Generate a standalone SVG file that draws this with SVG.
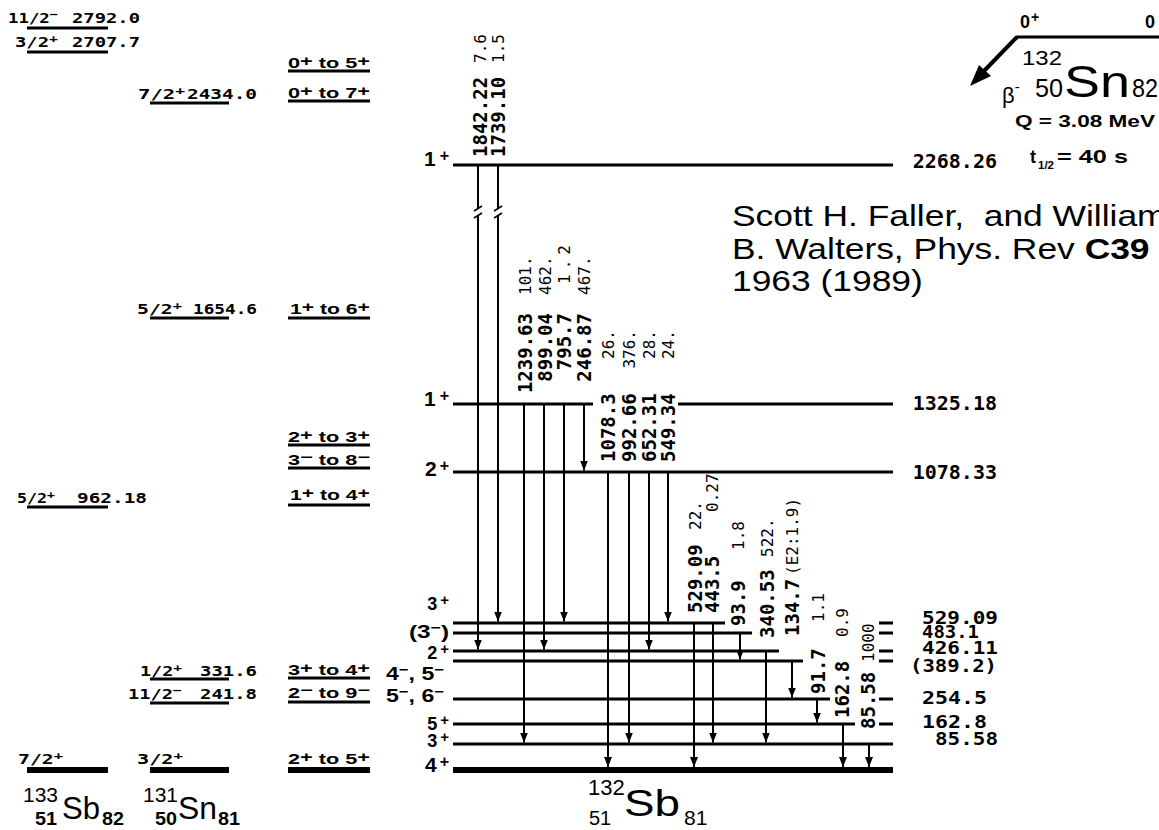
<svg xmlns="http://www.w3.org/2000/svg" width="1159" height="830" viewBox="0 0 1159 830">
<defs>
<marker id="ah" viewBox="0 0 10 8" refX="10" refY="4" markerWidth="10" markerHeight="8" markerUnits="userSpaceOnUse" orient="auto"><path d="M0,0 L10,4 L0,8 z" fill="#000"/></marker>
</defs>
<style>
.lv{stroke:#000;stroke-width:3;fill:none}
.gs{stroke:#000;stroke-width:6;fill:none}
.g{stroke:#000;stroke-width:2;fill:none;marker-end:url(#ah)}
.ll{font-family:"DejaVu Sans Mono",monospace;font-weight:bold;font-size:14px;fill:#000}
.sr{font-family:"Liberation Sans",Arial,sans-serif;font-weight:bold;font-size:14px;fill:#000}
.jp{font-family:"Liberation Sans",Arial,sans-serif;font-weight:bold;font-size:21px;fill:#000}
.jps{font-family:"Liberation Sans",Arial,sans-serif;font-weight:bold;font-size:18px;fill:#000}
.en{font-family:"DejaVu Sans Mono",monospace;font-weight:bold;font-size:20px;fill:#000}
.es{font-family:"DejaVu Sans Mono",monospace;font-weight:bold;font-size:17px;fill:#000}
.ge{font-family:"DejaVu Sans Mono",monospace;font-weight:bold;font-size:19px;fill:#000}
.gi{font-family:"DejaVu Sans Mono",monospace;font-size:16px;fill:#000}
.nuc{font-family:"Liberation Sans",Arial,sans-serif;fill:#000}
.cit{font-family:"Liberation Sans",Arial,sans-serif;font-size:30px;fill:#000}
</style>
<rect width="1159" height="830" fill="#fff"/>

<!-- 133Sb levels -->
<g id="sb133">
<line class="lv" x1="27" y1="28" x2="108" y2="28"/>
<text class="ll" x="8" y="23" textLength="50" lengthAdjust="spacingAndGlyphs">11/2<tspan dy="-5" font-size="11">−</tspan></text>
<text class="ll" x="72" y="23" textLength="68" lengthAdjust="spacingAndGlyphs">2792.0</text>
<line class="lv" x1="27" y1="52" x2="108" y2="52"/>
<text class="ll" x="15" y="47" textLength="43" lengthAdjust="spacingAndGlyphs">3/2<tspan dy="-5" font-size="11">+</tspan></text>
<text class="ll" x="72" y="47" textLength="68" lengthAdjust="spacingAndGlyphs">2707.7</text>
<line class="lv" x1="27" y1="507" x2="108" y2="507"/>
<text class="ll" x="17" y="503" textLength="38" lengthAdjust="spacingAndGlyphs">5/2<tspan dy="-5" font-size="11">+</tspan></text>
<text class="ll" x="77" y="503" textLength="70" lengthAdjust="spacingAndGlyphs">962.18</text>
<line class="gs" x1="27" y1="770" x2="108" y2="770"/>
<text class="ll" x="18" y="764" textLength="45" lengthAdjust="spacingAndGlyphs">7/2<tspan dy="-5" font-size="11">+</tspan></text>
<text class="nuc" x="23" y="802" font-size="21">133</text>
<text class="nuc" x="62" y="819" font-size="32" textLength="38" lengthAdjust="spacingAndGlyphs">Sb</text>
<text class="nuc" x="35" y="825" font-size="18" font-weight="bold" textLength="22" lengthAdjust="spacingAndGlyphs">51</text>
<text class="nuc" x="102" y="825" font-size="18" font-weight="bold" textLength="22" lengthAdjust="spacingAndGlyphs">82</text>
</g>

<!-- 131Sn levels -->
<g id="sn131">
<line class="lv" x1="150" y1="103" x2="229" y2="103"/>
<text class="ll" x="138" y="99" textLength="47" lengthAdjust="spacingAndGlyphs">7/2<tspan dy="-5" font-size="11">+</tspan></text>
<text class="ll" x="187" y="99" textLength="70" lengthAdjust="spacingAndGlyphs">2434.0</text>
<line class="lv" x1="150" y1="318" x2="229" y2="318"/>
<text class="ll" x="137" y="314" textLength="45" lengthAdjust="spacingAndGlyphs">5/2<tspan dy="-5" font-size="11">+</tspan></text>
<text class="ll" x="193" y="314" textLength="64" lengthAdjust="spacingAndGlyphs">1654.6</text>
<line class="lv" x1="150" y1="679" x2="229" y2="679"/>
<text class="ll" x="140" y="676" textLength="42" lengthAdjust="spacingAndGlyphs">1/2<tspan dy="-5" font-size="11">+</tspan></text>
<text class="ll" x="200" y="676" textLength="57" lengthAdjust="spacingAndGlyphs">331.6</text>
<line class="lv" x1="150" y1="703" x2="229" y2="703"/>
<text class="ll" x="128" y="699" textLength="54" lengthAdjust="spacingAndGlyphs">11/2<tspan dy="-5" font-size="11">−</tspan></text>
<text class="ll" x="200" y="699" textLength="57" lengthAdjust="spacingAndGlyphs">241.8</text>
<line class="gs" x1="150" y1="770" x2="229" y2="770"/>
<text class="ll" x="137" y="764" textLength="46" lengthAdjust="spacingAndGlyphs">3/2<tspan dy="-5" font-size="11">+</tspan></text>
<text class="nuc" x="143" y="802" font-size="21">131</text>
<text class="nuc" x="178" y="819" font-size="32" textLength="39" lengthAdjust="spacingAndGlyphs">Sn</text>
<text class="nuc" x="155" y="825" font-size="18" font-weight="bold" textLength="22" lengthAdjust="spacingAndGlyphs">50</text>
<text class="nuc" x="218" y="825" font-size="18" font-weight="bold" textLength="22" lengthAdjust="spacingAndGlyphs">81</text>
</g>

<!-- spin ranges -->
<g id="spin-ranges">
<line class="lv" x1="288" y1="71" x2="370" y2="71"/>
<text class="sr" x="288" y="68" textLength="82" lengthAdjust="spacingAndGlyphs">0<tspan dy="-2">+</tspan><tspan dy="2"> to 5</tspan><tspan dy="-2">+</tspan></text>
<line class="lv" x1="288" y1="101" x2="370" y2="101"/>
<text class="sr" x="288" y="98" textLength="82" lengthAdjust="spacingAndGlyphs">0<tspan dy="-2">+</tspan><tspan dy="2"> to 7</tspan><tspan dy="-2">+</tspan></text>
<line class="lv" x1="288" y1="318" x2="370" y2="318"/>
<text class="sr" x="290" y="314" textLength="80" lengthAdjust="spacingAndGlyphs">1<tspan dy="-2">+</tspan><tspan dy="2"> to 6</tspan><tspan dy="-2">+</tspan></text>
<line class="lv" x1="288" y1="445" x2="370" y2="445"/>
<text class="sr" x="288" y="442" textLength="82" lengthAdjust="spacingAndGlyphs">2<tspan dy="-2">+</tspan><tspan dy="2"> to 3</tspan><tspan dy="-2">+</tspan></text>
<line class="lv" x1="288" y1="468" x2="370" y2="468"/>
<text class="sr" x="288" y="465" textLength="82" lengthAdjust="spacingAndGlyphs">3<tspan dy="-3">−</tspan><tspan dy="3"> to 8</tspan><tspan dy="-3">−</tspan></text>
<line class="lv" x1="288" y1="505" x2="370" y2="505"/>
<text class="sr" x="290" y="500" textLength="80" lengthAdjust="spacingAndGlyphs">1<tspan dy="-2">+</tspan><tspan dy="2"> to 4</tspan><tspan dy="-2">+</tspan></text>
<line class="lv" x1="288" y1="678" x2="370" y2="678"/>
<text class="sr" x="288" y="675" textLength="82" lengthAdjust="spacingAndGlyphs">3<tspan dy="-2">+</tspan><tspan dy="2"> to 4</tspan><tspan dy="-2">+</tspan></text>
<line class="lv" x1="288" y1="702" x2="370" y2="702"/>
<text class="sr" x="288" y="698" textLength="82" lengthAdjust="spacingAndGlyphs">2<tspan dy="-3">−</tspan><tspan dy="3"> to 9</tspan><tspan dy="-3">−</tspan></text>
<line class="gs" x1="288" y1="770" x2="370" y2="770"/>
<text class="sr" x="288" y="764" textLength="82" lengthAdjust="spacingAndGlyphs">2<tspan dy="-2">+</tspan><tspan dy="2"> to 5</tspan><tspan dy="-2">+</tspan></text>
</g>

<!-- 132Sb levels -->
<g id="sb132-levels">
<g id="lv2268"><line class="lv" x1="453" y1="165" x2="893" y2="165"/><text class="jp" x="449" y="166" text-anchor="end">1<tspan dx="4" dy="-5" font-size="16">+</tspan></text><text class="en" x="997" y="168" text-anchor="end">2268.26</text></g>
<g id="lv1325"><line class="lv" x1="453" y1="404" x2="593" y2="404"/><line class="lv" x1="678" y1="404" x2="893" y2="404"/><text class="jp" x="449" y="406" text-anchor="end">1<tspan dx="4" dy="-5" font-size="16">+</tspan></text><text class="en" x="997" y="410" text-anchor="end">1325.18</text></g>
<g id="lv1078"><line class="lv" x1="453" y1="472" x2="893" y2="472"/><text class="jp" x="449" y="476" text-anchor="end">2<tspan dx="3" dy="-5" font-size="16">+</tspan></text><text class="en" x="997" y="479" text-anchor="end">1078.33</text></g>
<g id="lv529"><line class="lv" x1="453" y1="623" x2="725" y2="623"/><line class="lv" x1="879" y1="623" x2="893" y2="623"/><text class="jps" x="449" y="610" text-anchor="end">3<tspan dx="3" dy="-5" font-size="15">+</tspan></text><text class="es" x="998" y="624" text-anchor="end" textLength="76" lengthAdjust="spacingAndGlyphs">529.09</text></g>
<g id="lv483"><line class="lv" x1="453" y1="633" x2="752" y2="633"/><line class="lv" x1="879" y1="633" x2="893" y2="633"/><text class="jps" x="449" y="638" text-anchor="end" textLength="40" lengthAdjust="spacingAndGlyphs">(3<tspan dy="-6" font-size="13">−</tspan><tspan dy="6">)</tspan></text><text class="es" x="922" y="638" textLength="57" lengthAdjust="spacingAndGlyphs">483.1</text></g>
<g id="lv426"><line class="lv" x1="453" y1="651" x2="779" y2="651"/><line class="lv" x1="879" y1="651" x2="893" y2="651"/><text class="jps" x="449" y="659" text-anchor="end">2<tspan dx="3" dy="-5" font-size="15">+</tspan></text><text class="es" x="922" y="654" textLength="76" lengthAdjust="spacingAndGlyphs">426.11</text></g>
<g id="lv389"><line class="lv" x1="453" y1="661" x2="803" y2="661"/><line class="lv" x1="879" y1="661" x2="893" y2="661"/><text class="jps" x="444" y="680" text-anchor="end" textLength="58" lengthAdjust="spacingAndGlyphs">4<tspan dy="-6" font-size="13">−</tspan><tspan dy="6">, 5</tspan><tspan dy="-6" font-size="13">−</tspan></text><text class="es" x="910" y="672" textLength="87" lengthAdjust="spacingAndGlyphs">(389.2)</text></g>
<g id="lv254"><line class="lv" x1="453" y1="699" x2="830" y2="699"/><line class="lv" x1="879" y1="699" x2="893" y2="699"/><text class="jps" x="444" y="702" text-anchor="end" textLength="58" lengthAdjust="spacingAndGlyphs">5<tspan dy="-6" font-size="13">−</tspan><tspan dy="6">, 6</tspan><tspan dy="-6" font-size="13">−</tspan></text><text class="es" x="922" y="704" textLength="65" lengthAdjust="spacingAndGlyphs">254.5</text></g>
<g id="lv162"><line class="lv" x1="453" y1="724" x2="855" y2="724"/><line class="lv" x1="879" y1="724" x2="893" y2="724"/><text class="jps" x="449" y="730" text-anchor="end">5<tspan dx="3" dy="-5" font-size="15">+</tspan></text><text class="es" x="922" y="728" textLength="65" lengthAdjust="spacingAndGlyphs">162.8</text></g>
<g id="lv85"><line class="lv" x1="453" y1="744" x2="893" y2="744"/><text class="jps" x="449" y="747" text-anchor="end">3<tspan dx="3" dy="-5" font-size="15">+</tspan></text><text class="es" x="998" y="745" text-anchor="end" textLength="63" lengthAdjust="spacingAndGlyphs">85.58</text></g>
<g id="lv0"><line class="gs" x1="453" y1="770" x2="893" y2="770"/><text class="jp" x="449" y="772" text-anchor="end">4<tspan dx="3" dy="-5" font-size="16">+</tspan></text></g>
<g id="title132sb">
<text class="nuc" x="588" y="795" font-size="22">132</text>
<text class="nuc" x="624" y="816" font-size="36" textLength="56" lengthAdjust="spacingAndGlyphs">Sb</text>
<text class="nuc" x="589" y="825" font-size="20">51</text>
<text class="nuc" x="684" y="825" font-size="21">81</text>
</g>
</g>

<!-- parent 132Sn -->
<g id="sn132">
<line class="lv" x1="1016" y1="37" x2="1159" y2="37"/>
<line x1="1017" y1="37" x2="984" y2="71" stroke="#000" stroke-width="4"/>
<path d="M970,86 L979,65 L991,76 z" fill="#000"/>
<text class="nuc" x="1020" y="28" font-size="18" font-weight="bold">0<tspan dx="1" dy="-6" font-size="14">+</tspan></text>
<text class="nuc" x="1145" y="28" font-size="18" font-weight="bold">0</text>
<text class="nuc" x="1022" y="65" font-size="21" textLength="40" lengthAdjust="spacingAndGlyphs">132</text>
<text class="nuc" x="1064" y="97" font-size="44" textLength="66" lengthAdjust="spacingAndGlyphs">Sn</text>
<text class="nuc" x="1035" y="97" font-size="25" textLength="28" lengthAdjust="spacingAndGlyphs">50</text>
<text class="nuc" x="1132" y="97" font-size="25" textLength="26" lengthAdjust="spacingAndGlyphs">82</text>
<text class="nuc" x="1002" y="103" font-size="22">β<tspan dy="-11" font-size="15">-</tspan></text>
<text class="nuc" x="1015" y="127" font-size="17" font-weight="bold" textLength="140" lengthAdjust="spacingAndGlyphs">Q = 3.08 MeV</text>
<text class="nuc" x="1030" y="163" font-size="18" font-weight="bold">t</text>
<text class="nuc" x="1038" y="169" font-size="11" font-weight="bold" textLength="16" lengthAdjust="spacingAndGlyphs">1/2</text>
<text class="nuc" x="1057" y="163" font-size="18" font-weight="bold" textLength="71" lengthAdjust="spacingAndGlyphs">= 40 s</text>
</g>

<!-- citation -->
<g id="citation">
<text class="cit" transform="translate(732,226) scale(1.18,1)" xml:space="preserve">Scott H. Faller,  and William</text>
<text class="cit" transform="translate(732,259) scale(1.18,1)">B. Walters, Phys. Rev <tspan font-weight="bold">C39</tspan></text>
<text class="cit" transform="translate(732,291) scale(1.18,1)">1963 (1989)</text>
</g>

<!-- gamma transitions -->
<g id="connectors">
<line class="g" x1="478" y1="165" x2="478" y2="649.5"/>
<line class="g" x1="498" y1="165" x2="498" y2="621.5"/>
<line class="g" x1="524" y1="404" x2="524" y2="742.5"/>
<line class="g" x1="544" y1="404" x2="544" y2="649.5"/>
<line class="g" x1="564" y1="404" x2="564" y2="621.5"/>
<line class="g" x1="584" y1="404" x2="584" y2="470.5"/>
<line class="g" x1="608" y1="472" x2="608" y2="767"/>
<line class="g" x1="629" y1="472" x2="629" y2="742.5"/>
<line class="g" x1="649" y1="472" x2="649" y2="649.5"/>
<line class="g" x1="668" y1="472" x2="668" y2="621.5"/>
<line class="g" x1="694" y1="623" x2="694" y2="767"/>
<line class="g" x1="713" y1="623" x2="713" y2="742.5"/>
<line class="g" x1="740" y1="633" x2="740" y2="659.5"/>
<line class="g" x1="766" y1="651" x2="766" y2="742.5"/>
<line class="g" x1="792" y1="661" x2="792" y2="697.5"/>
<line class="g" x1="817" y1="699" x2="817" y2="722.5"/>
<line class="g" x1="843" y1="724" x2="843" y2="767"/>
<line class="g" x1="869" y1="744" x2="869" y2="767"/>
<!-- break marks -->
<rect x="474" y="208" width="8" height="8" fill="#fff"/>
<rect x="494" y="208" width="8" height="8" fill="#fff"/>
<path d="M474,211 L482,206 M474,218 L482,213 M494,211 L502,206 M494,218 L502,213" stroke="#000" stroke-width="1.6" fill="none"/>
</g>

<!-- gamma labels -->
<g id="gamma-labels">
<text class="ge" transform="translate(487,157) rotate(-90)">1842.22</text>
<text class="gi" transform="translate(486,63) rotate(-90)">7.6</text>
<text class="ge" transform="translate(505,157) rotate(-90)">1739.10</text>
<text class="gi" transform="translate(504,63) rotate(-90)">1.5</text>

<text class="ge" text-anchor="end" transform="translate(532,313) rotate(-90)">1239.63</text>
<text class="ge" text-anchor="end" transform="translate(552,313) rotate(-90)">899.04</text>
<text class="ge" text-anchor="end" transform="translate(571,313) rotate(-90)">795.7</text>
<text class="ge" text-anchor="end" transform="translate(591,313) rotate(-90)">246.87</text>
<text class="gi" transform="translate(531,295) rotate(-90)">101.</text>
<text class="gi" transform="translate(551,295) rotate(-90)">462.</text>
<text class="gi" transform="translate(570,284) rotate(-90)" textLength="39" lengthAdjust="spacing">1.2</text>
<text class="gi" transform="translate(590,295) rotate(-90)">467.</text>

<text class="ge" transform="translate(615,462) rotate(-90)">1078.3</text>
<text class="ge" transform="translate(636,462) rotate(-90)">992.66</text>
<text class="ge" transform="translate(656,462) rotate(-90)">652.31</text>
<text class="ge" transform="translate(675,462) rotate(-90)">549.34</text>
<text class="gi" text-anchor="end" transform="translate(614,330) rotate(-90)">26.</text>
<text class="gi" text-anchor="end" transform="translate(635,330) rotate(-90)">376.</text>
<text class="gi" text-anchor="end" transform="translate(655,330) rotate(-90)">28.</text>
<text class="gi" text-anchor="end" transform="translate(674,330) rotate(-90)">24.</text>

<text class="ge" transform="translate(702,613) rotate(-90)">529.09</text>
<text class="gi" transform="translate(701,530) rotate(-90)">22.</text>
<text class="ge" transform="translate(719,613) rotate(-90)">443.5</text>
<text class="gi" transform="translate(718,512) rotate(-90)">0.27</text>

<text class="ge" transform="translate(745,626) rotate(-90)">93.9</text>
<text class="gi" transform="translate(744,550) rotate(-90)">1.8</text>
<text class="ge" transform="translate(774,638) rotate(-90)">340.53</text>
<text class="gi" transform="translate(773,557) rotate(-90)">522.</text>
<text class="ge" transform="translate(799,636) rotate(-90)">134.7</text>
<text class="gi" transform="translate(798,575) rotate(-90)">(E2:1.9)</text>
<text class="ge" transform="translate(825,694) rotate(-90)">91.7</text>
<text class="gi" transform="translate(824,622) rotate(-90)">1.1</text>
<text class="ge" transform="translate(849,718) rotate(-90)">162.8</text>
<text class="gi" transform="translate(848,637) rotate(-90)">0.9</text>
<text class="ge" transform="translate(875,729) rotate(-90)">85.58</text>
<text class="gi" transform="translate(874,662) rotate(-90)">1000</text>
</g>
</svg>
